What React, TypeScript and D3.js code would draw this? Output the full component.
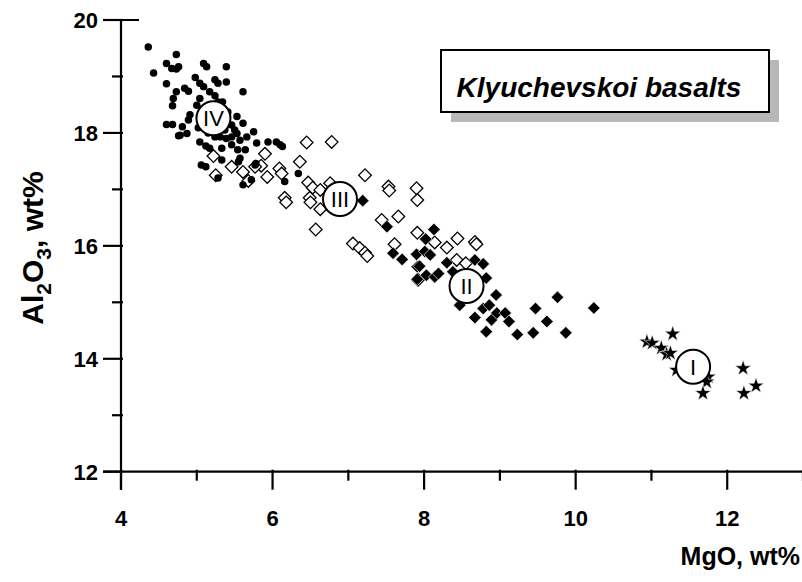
import React, { useEffect } from "react";
import * as d3 from "d3";

// Group IV: filled dots (MgO, Al2O3 wt%)
const groupIV_mgo = [4.36, 4.43, 4.73, 4.60, 4.67, 4.73, 4.76, 5.09, 5.13, 5.39, 4.60, 4.98, 5.04, 5.09, 5.24, 5.28, 5.39, 4.84, 4.89, 4.73, 4.69, 4.68, 5.17, 5.24, 5.61, 5.04, 5.00, 5.28, 5.34, 4.91, 4.89, 5.53, 5.61, 4.60, 4.68, 4.81, 4.76, 5.04, 5.12, 5.17, 5.24, 5.31, 5.39, 5.46, 5.50, 5.53, 5.66, 5.75, 5.46, 5.64, 5.79, 5.94, 6.05, 6.10, 6.13, 5.06, 5.12, 5.33, 5.57, 5.55, 5.77, 5.28, 5.61, 5.72, 6.16, 6.34, 4.78, 4.87, 5.78, 5.41, 5.46, 5.37, 5.02, 5.15, 5.57, 5.33, 5.54];
const groupIV_al = [19.52, 19.06, 19.39, 19.23, 19.14, 19.13, 19.17, 19.23, 19.17, 19.17, 18.87, 18.98, 18.88, 18.82, 18.94, 18.88, 18.90, 18.79, 18.74, 18.73, 18.61, 18.48, 18.73, 18.66, 18.73, 18.61, 18.49, 18.55, 18.55, 18.32, 18.23, 18.29, 18.17, 18.15, 18.15, 18.11, 17.95, 17.84, 17.77, 17.73, 17.93, 17.93, 17.90, 17.93, 18.05, 17.99, 17.93, 18.02, 17.79, 17.70, 17.82, 17.84, 17.84, 17.79, 17.76, 17.43, 17.40, 17.52, 17.55, 17.49, 17.43, 17.20, 17.08, 17.17, 17.14, 17.28, 17.96, 17.99, 17.46, 18.37, 18.14, 18.05, 18.09, 18.00, 17.87, 17.73, 17.70];

// Group III: open diamonds
const groupIII_mgo = [6.45, 5.22, 5.46, 5.61, 5.90, 5.85, 5.77, 5.93, 6.09, 6.12, 5.25, 5.68, 6.47, 6.53, 6.16, 6.49, 6.78, 6.36, 6.63, 6.76, 6.18, 6.50, 6.63, 6.57, 7.22, 7.53, 7.54, 7.90, 7.91, 7.66, 7.44, 7.61, 7.06, 7.15, 7.22, 7.25, 7.91, 8.14, 8.30, 8.44, 8.67, 8.69, 8.43, 8.55, 7.92];
const groupIII_al = [17.83, 17.59, 17.40, 17.31, 17.63, 17.42, 17.40, 17.22, 17.37, 17.28, 17.25, 17.15, 17.12, 17.03, 16.85, 16.85, 17.84, 17.49, 16.99, 17.11, 16.77, 16.77, 16.65, 16.29, 17.25, 17.05, 16.98, 17.02, 16.81, 16.52, 16.46, 16.03, 16.04, 15.96, 15.88, 15.82, 16.23, 16.06, 15.97, 16.13, 16.07, 16.03, 15.75, 15.69, 15.40];

// Group II: filled diamonds
const groupII_mgo = [7.19, 7.51, 7.59, 7.71, 7.90, 7.91, 7.91, 8.13, 8.02, 8.01, 8.08, 7.94, 8.30, 8.67, 8.78, 8.03, 8.14, 8.19, 8.38, 8.82, 8.95, 8.47, 8.78, 8.86, 8.67, 8.89, 8.96, 9.07, 9.12, 8.82, 9.23, 9.44, 9.47, 9.62, 9.76, 9.87, 10.24];
const groupII_al = [16.80, 16.34, 15.87, 15.76, 15.85, 15.63, 15.41, 16.29, 16.12, 15.90, 15.84, 15.64, 15.70, 15.75, 15.68, 15.48, 15.45, 15.51, 15.54, 15.43, 15.13, 14.95, 14.89, 14.95, 14.73, 14.69, 14.81, 14.81, 14.66, 14.48, 14.43, 14.46, 14.89, 14.66, 15.09, 14.46, 14.90];

// Group I: stars
const groupI_mgo = [10.94, 11.01, 11.28, 11.13, 11.20, 11.25, 11.33, 11.75, 11.73, 11.68, 12.21, 12.22, 12.38];
const groupI_al = [14.30, 14.28, 14.44, 14.19, 14.08, 14.10, 13.80, 13.68, 13.59, 13.39, 13.83, 13.39, 13.52];

// Group labels placed at group centres
const groupLabels = ["IV", "III", "II", "I"];
const groupLabel_mgo = [5.22, 6.89, 8.56, 11.55];
const groupLabel_al = [18.26, 16.83, 15.29, 13.86];

const xMajorTicks = [4, 6, 8, 10, 12];
const xMinorTicks = [5, 7, 9, 11, 13];
const yMajorTicks = [12, 14, 16, 18, 20];
const yMinorTicks = [13, 15, 17, 19];

const W = 802;
const H = 582;
const FONT = "'Liberation Sans', Arial, Helvetica, sans-serif";

const x = d3.scaleLinear().domain([4, 13]).range([121, 803]);
const y = d3.scaleLinear().domain([12, 20]).range([471.7, 20]);

const dotPath = d3.symbol(d3.symbolCircle, 44)() as string;
const diamondPath = d3.symbol(d3.symbolSquare, 80)() as string;
const starPath = d3.symbol(d3.symbolStar, 78)() as string;

const zip = (a: number[], b: number[]) => a.map((v, i) => [v, b[i]] as [number, number]);

export default function App() {
  useEffect(() => {
    document.body.style.margin = "0";
  }, []);

  const axisX0 = x(4);
  const axisY0 = y(12);

  return (
    <svg width={W} height={H} style={{ display: "block", background: "#fff" }} fontFamily={FONT}>
      {/* open diamonds */}
      {zip(groupIII_mgo, groupIII_al).map(([m, a], i) => (
        <path key={"o" + i} d={diamondPath} transform={`translate(${x(m)},${y(a)}) rotate(45)`} fill="#fff" stroke="#000" strokeWidth={1.3} />
      ))}
      {/* dots */}
      {zip(groupIV_mgo, groupIV_al).map(([m, a], i) => (
        <path key={"d" + i} d={dotPath} transform={`translate(${x(m)},${y(a)})`} fill="#000" />
      ))}
      {/* filled diamonds */}
      {zip(groupII_mgo, groupII_al).map(([m, a], i) => (
        <path key={"f" + i} d={diamondPath} transform={`translate(${x(m)},${y(a)}) rotate(45)`} fill="#000" stroke="#fff" strokeWidth={0.6} />
      ))}
      {/* stars */}
      {zip(groupI_mgo, groupI_al).map(([m, a], i) => (
        <path key={"s" + i} d={starPath} transform={`translate(${x(m)},${y(a)})`} fill="#000" stroke="#fff" strokeWidth={0.5} />
      ))}
      {/* group labels */}
      {groupLabels.map((t, i) => (
        <g key={"g" + i} transform={`translate(${x(groupLabel_mgo[i])},${y(groupLabel_al[i])})`}>
          <circle r={17} fill="#fff" stroke="#000" strokeWidth={2} />
          <text textAnchor="middle" dy="0.36em" fontSize={22} fill="#000">{t}</text>
        </g>
      ))}

      {/* axes */}
      <g stroke="#000" strokeWidth={2.2} fill="none">
        <line x1={axisX0 - 18} x2={W} y1={axisY0} y2={axisY0} />
        <line x1={axisX0} x2={axisX0} y1={y(20)} y2={axisY0 + 18} />
        <line x1={axisX0 - 18} x2={axisX0 + 18} y1={y(20)} y2={y(20)} />
        {xMajorTicks.map((t) => (
          <line key={"xm" + t} x1={x(t)} x2={x(t)} y1={axisY0 - 2} y2={axisY0 + 18} />
        ))}
        {xMinorTicks.map((t) => (
          <line key={"xn" + t} x1={x(t)} x2={x(t)} y1={axisY0 - 2} y2={axisY0 + 9} />
        ))}
        {yMajorTicks.map((t) => (
          <line key={"ym" + t} x1={axisX0 - 18} x2={axisX0 + 2} y1={y(t)} y2={y(t)} />
        ))}
        {yMinorTicks.map((t) => (
          <line key={"yn" + t} x1={axisX0 - 9} x2={axisX0 + 2} y1={y(t)} y2={y(t)} />
        ))}
      </g>
      <g fontSize={22} fontWeight="bold" fill="#000">
        {xMajorTicks.map((t) => (
          <text key={"xl" + t} x={x(t)} y={axisY0 + 54} textAnchor="middle">{t}</text>
        ))}
        {yMajorTicks.map((t) => (
          <text key={"yl" + t} x={axisX0 - 23} y={y(t)} dy="0.36em" textAnchor="end">{t}</text>
        ))}
      </g>
      <text x={800} y={565} textAnchor="end" fontSize={25} fontWeight="bold">MgO, wt%</text>
      <text transform="translate(43,248) rotate(-90)" textAnchor="middle" fontSize={30} fontWeight="bold">
        Al<tspan fontSize={21} dy={8}>2</tspan><tspan dy={-8}>O</tspan><tspan fontSize={21} dy={8}>3</tspan><tspan dy={-8}>, wt%</tspan>
      </text>

      {/* title box */}
      <rect x={451} y={60} width={328} height={62} fill="#b8b8b8" />
      <rect x={441} y={50} width={328} height={62} fill="#fff" stroke="#000" strokeWidth={2} />
      <text x={599} y={87} dy="0.36em" textAnchor="middle" fontSize={28} fontWeight="bold" fontStyle="italic">Klyuchevskoi basalts</text>
    </svg>
  );
}
